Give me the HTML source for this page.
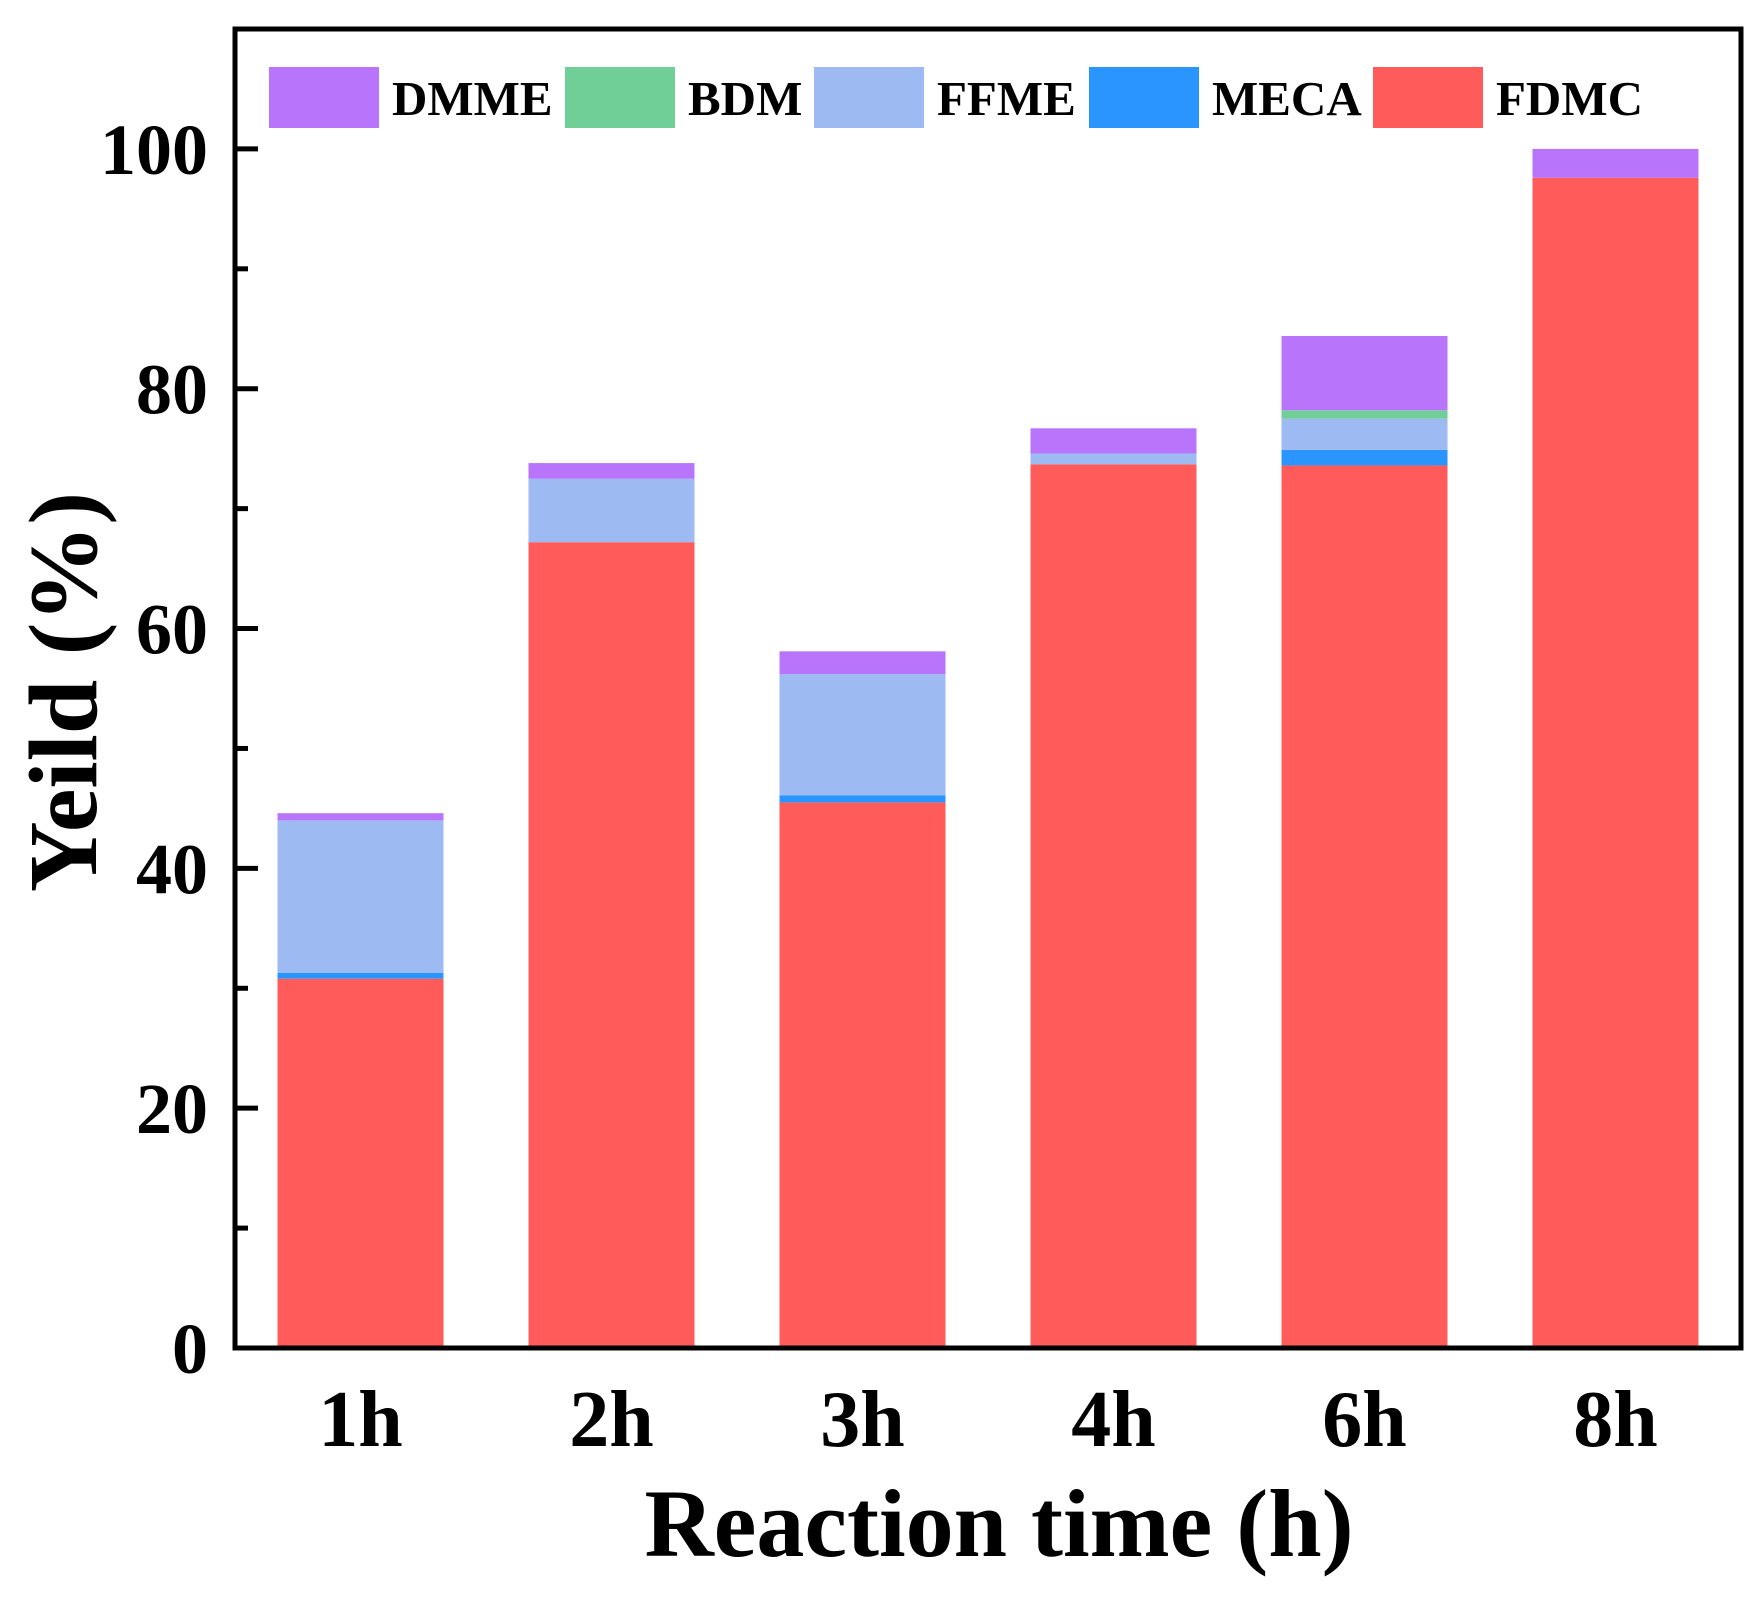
<!DOCTYPE html>
<html><head><meta charset="utf-8"><style>
body{margin:0;background:#fff}
svg text{font-family:"Liberation Serif",serif;font-weight:bold}
</style></head><body>
<svg id="chart" width="1762" height="1593" xmlns="http://www.w3.org/2000/svg">
<g id="bars"></g>
<g id="axes"></g>
<g id="legend"></g>
<text x="999" y="1556" font-size="96" text-anchor="middle">Reaction time (h)</text>
<text transform="translate(96,692) rotate(-90)" font-size="98" text-anchor="middle">Yeild (%)</text>
</svg>
<script>
const categories = ["1h","2h","3h","4h","6h","8h"];
const seriesNames = ["FDMC","MECA","FFME","BDM","DMME"];
const fdmc = [30.8, 67.2, 45.5, 73.7, 73.6, 97.6];
const meca = [0.5, 0, 0.6, 0, 1.3, 0];
const ffme = [12.7, 5.3, 10.1, 0.9, 2.6, 0];
const bdm  = [0, 0, 0, 0, 0.7, 0];
const dmme = [0.6, 1.3, 1.9, 2.1, 6.2, 2.4];
const yTicks = [0, 20, 40, 60, 80, 100];
const yMinorTicks = [10, 30, 50, 70, 90];
const legendOrder = ["DMME","BDM","FFME","MECA","FDMC"];

const colors = {FDMC:"#ff5b5b",MECA:"#2b95ff",FFME:"#9dbaf2",BDM:"#6fcf97",DMME:"#b875fb"};
const seriesData = {FDMC:fdmc,MECA:meca,FFME:ffme,BDM:bdm,DMME:dmme};
const NS="http://www.w3.org/2000/svg";
const L=235,R=1741,T=29,B=1348,YMAX=110;
const y = v => B - v/YMAX*(B-T);
const band=(R-L)/categories.length;
const xc = i => L + band*(i+0.5);
const bw = 166;
function mk(tag,attrs,parent){const e=document.createElementNS(NS,tag);for(const k in attrs)e.setAttribute(k,attrs[k]);parent.appendChild(e);return e;}
const gb=document.getElementById('bars');
categories.forEach((c,i)=>{
  let acc=0;
  seriesNames.forEach(s=>{
    const v=seriesData[s][i];
    if(v>0){
      const r=mk('rect',{x:xc(i)-bw/2,y:y(acc+v),width:bw,height:y(acc)-y(acc+v),fill:colors[s]},gb);
      
      
    }
    acc+=v;
  });
});
const ga=document.getElementById('axes');
const fr=mk('rect',{x:L,y:T,width:R-L,height:B-T,fill:'none',stroke:'#000','stroke-width':5},ga);


yTicks.forEach(t=>{
  const l=mk('line',{x1:L,x2:L+23,y1:y(t),y2:y(t),stroke:'#000','stroke-width':5},ga);
  
  
  const tx=mk('text',{x:208,y:y(t)+25,'font-size':72,'text-anchor':'end'},ga);
  tx.textContent=t;
  
  
});
yMinorTicks.forEach(t=>{
  const l=mk('line',{x1:L,x2:L+13,y1:y(t),y2:y(t),stroke:'#000','stroke-width':5},ga);
  
  
});
categories.forEach((c,i)=>{
  const tx=mk('text',{x:xc(i),y:1446,'font-size':80,'text-anchor':'middle'},ga);
  tx.textContent=c;
  
  
});
const gl=document.getElementById('legend');
const boxX=[269,565,814,1089,1373];
legendOrder.forEach((s,i)=>{
  const r=mk('rect',{x:boxX[i],y:67,width:110,height:61,fill:colors[s]},gl);
  
  
  const tx=mk('text',{x:boxX[i]+123,y:115,'font-size':49},gl);
  tx.textContent=s;
  
  
});
</script>
</body></html>
